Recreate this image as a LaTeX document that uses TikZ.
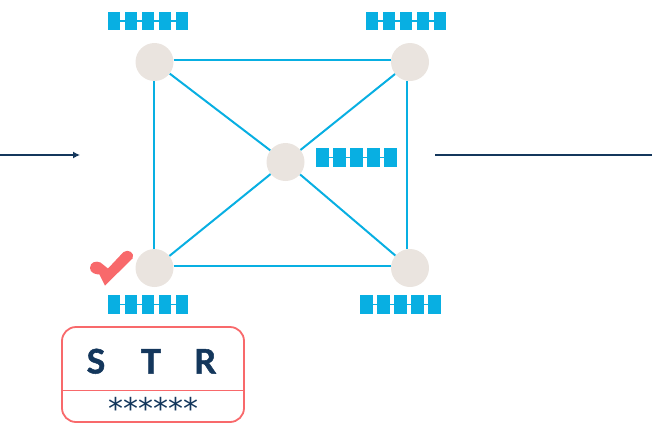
\documentclass[tikz,border=0pt]{standalone}
\usepackage{fontspec}
\setmainfont[BoldFeatures={FakeBold=1.5}]{Lato}
\newfontfamily\starfont{DejaVu Sans}
\usetikzlibrary{arrows.meta}
\definecolor{skyb}{HTML}{08AFE2}
\definecolor{navy}{HTML}{14375C}
\definecolor{stone}{HTML}{EAE4DF}
\definecolor{coral}{HTML}{F8696B}
\tikzset{
  x=1bp,y=-1bp,
  hub/.style={circle,fill=stone,minimum size=38bp,inner sep=0pt},
  link/.style={draw=skyb,line width=2bp},
  flow/.style={draw=navy,line width=1.2bp},
  cell/.style={fill=skyb,minimum width=12.5bp,minimum height=18.5bp,inner sep=0pt},
  letter/.style={text=navy,font=\bfseries\fontsize{34}{34}\selectfont,anchor=base,inner sep=0pt},
  stars/.style={text=navy,inner sep=0pt,anchor=base,font=\starfont\fontsize{30}{30}\selectfont},
}
\newcommand{\chainat}[3]{%
  \node[cell] (#1a) at (#2,#3) {};
  \node[cell] (#1b) at (#2+17,#3) {};
  \node[cell] (#1c) at (#2+34,#3) {};
  \node[cell] (#1d) at (#2+51,#3) {};
  \node[cell] (#1e) at (#2+68,#3) {};
  \draw[skyb,line width=1.6bp] (#1a.center) -- (#1e.center);
}
\begin{document}
\begin{tikzpicture}
\useasboundingbox (0,0) rectangle (652,423);
\node[hub] (tl) at (154.5,62) {};
\node[hub] (tr) at (410,62) {};
\node[hub] (c) at (285.5,162) {};
\node[hub] (bl) at (154.5,268) {};
\node[hub] (br) at (410,268) {};
\draw[link] ([yshift=2bp]tl.east) -- ([yshift=2bp]tr.west);
\draw[link] ([yshift=2bp]bl.east) -- ([yshift=2bp]br.west);
\draw[link] ([xshift=-0.5bp]tl.south) -- ([xshift=-0.5bp]bl.north);
\draw[link] ([xshift=-3bp]tr.south) -- ([xshift=-3bp]br.north);
\draw[link] (tl) -- (c);
\draw[link] (tr) -- (c);
\draw[link] (bl) -- (c);
\draw[link] (br) -- (c);
\chainat{p}{114}{21}
\chainat{q}{372}{21}
\chainat{r}{322.5}{157.5}
\chainat{s}{114}{304.5}
\chainat{t}{366.5}{304.5}
\coordinate (ls) at (0,155);
\coordinate (le) at (80,155);
\coordinate (rs) at (435,155);
\coordinate (re) at (652,155);
\draw[flow,-{Latex[length=7bp,width=7bp]}] (ls) -- (le);
\draw[flow] (rs) -- (re);
% check mark
\fill[coral] (90,268) .. controls (90,262) and (96,260.5) .. (100.5,262.5) -- (108,268.5) -- (123.5,252) .. controls (128,248.5) and (135.5,253) .. (132.5,258.5) -- (105,285.5) -- (99.5,274.5) .. controls (95,274.5) and (90,272.5) .. (90,268) -- cycle;
% card
\node[draw=coral,line width=1.8bp,rounded corners=14bp,minimum width=182bp,minimum height=95bp,inner sep=0pt] (card) at (153,374.5) {};
\coordinate (dl) at (62,390);
\coordinate (dr) at (244,390);
\draw[coral,line width=1bp] (dl) -- (dr);
\node[letter] (ls1) at (96,373.5) {S};
\node[letter] (ls2) at (151,373.5) {T};
\node[letter] (ls3) at (205,373.5) {R};
\node[stars] (st) at (153.5,419.5) {******};
\end{tikzpicture}
\end{document}
